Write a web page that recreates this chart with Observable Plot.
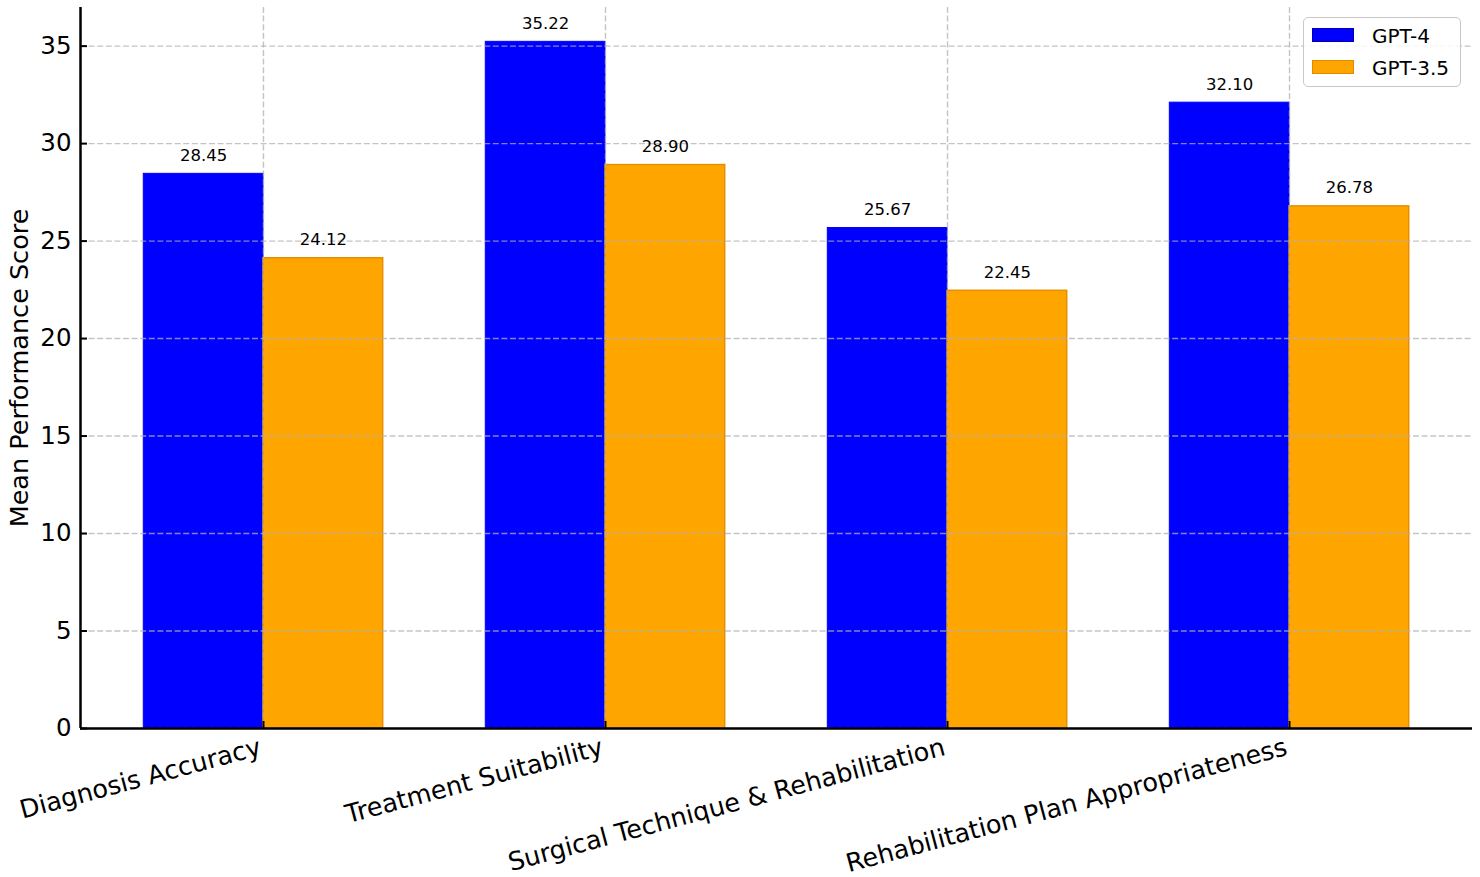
<!DOCTYPE html>
<html>
<head>
<meta charset="utf-8">
<script src="https://cdn.jsdelivr.net/npm/d3@7"></script>
<script src="https://cdn.jsdelivr.net/npm/@observablehq/plot@0.6"></script>
<style>
  html, body { margin: 0; padding: 0; background: #fff; overflow: hidden; }
  #wrap { position: relative; width: 1480px; height: 877px; font-family: "DejaVu Sans", sans-serif; }
  #chart svg { display: block; }
  .legend { position: absolute; left: 1303px; top: 17px; width: 158px; height: 70px; border: 1.5px solid #c8c8c8; border-radius: 5px; background: rgba(255,255,255,0.85); box-sizing: border-box; }
  .patch { position: absolute; width: 42px; height: 14px; box-sizing: border-box; }
  .ltext { position: absolute; font-size: 20px; line-height: 20px; color: #000; white-space: nowrap; }
</style>
</head>
<body>
<div id="wrap">
  <div id="chart"></div>
  <div class="legend" id="legend"></div>
</div>
<script>
// ---- data ----
const categories = ["Diagnosis Accuracy", "Treatment Suitability", "Surgical Technique & Rehabilitation", "Rehabilitation Plan Appropriateness"];
const seriesNames = ["GPT-4", "GPT-3.5"];
const gpt4 = [28.45, 35.22, 25.67, 32.10];
const gpt35 = [24.12, 28.90, 22.45, 26.78];
const yTicks = [0, 5, 10, 15, 20, 25, 30, 35];
const seriesColors = ["#0000ff", "#ffa500"];
const seriesEdges = ["#0000ff", "#e58f00"];

// ---- build table ----
const w = 0.35;
const rows = categories.flatMap((c, i) => [
  {cat: c, i, series: seriesNames[0], value: gpt4[i], x1: i - w, x2: i},
  {cat: c, i, series: seriesNames[1], value: gpt35[i], x1: i, x2: i + w}
]);
const lo = -w, hi = categories.length - 1 + w;
const pad = 0.05 * (hi - lo);
const xDomain = [lo - pad, hi + pad];
const yMax = d3.max(rows, d => d.value) * 1.05;
const idx = categories.map((d, i) => i);

const gridStyle = {stroke: "#b0b0b0", strokeOpacity: 0.75, strokeDasharray: "6,2.6", strokeWidth: 1.4};

const chart = Plot.plot({
  width: 1480,
  height: 877,
  marginLeft: 80,
  marginRight: 8,
  marginTop: 7,
  marginBottom: 149,
  style: {fontFamily: "DejaVu Sans", fontSize: "24px", color: "#000", background: "#fff"},
  x: {domain: xDomain},
  y: {domain: [0, yMax]},
  marks: [
    Plot.rectY(rows.filter(d => d.series === seriesNames[0]), {x1: "x1", x2: "x2", y: "value", fill: seriesColors[0], stroke: seriesEdges[0], strokeWidth: 1}),
    Plot.rectY(rows.filter(d => d.series === seriesNames[1]), {x1: "x1", x2: "x2", y: "value", fill: seriesColors[1], stroke: seriesEdges[1], strokeWidth: 1.5}),
    Plot.gridY(yTicks, gridStyle),
    Plot.gridX(idx, gridStyle),
    Plot.text(rows, {x: d => (d.x1 + d.x2) / 2, y: "value", text: d => d.value.toFixed(2), dy: -13, lineAnchor: "bottom", fontSize: 16.5, fill: "#000"}),
    Plot.axisY(yTicks, {tickSize: 7, dx: 7, tickPadding: 9, fontSize: 24.5, strokeWidth: 2, label: null, tickFormat: d => String(d)}),
    Plot.axisX(idx, {tickSize: 7, dy: -7, strokeWidth: 2, label: null, tickFormat: () => ""}),
    Plot.text(categories, {x: (d, i) => i, frameAnchor: "bottom", dy: 26, dx: -1, rotate: -15, textAnchor: "end", lineAnchor: "bottom", fontSize: 25.5, fill: "#000"}),
    Plot.text(["Mean Performance Score"], {frameAnchor: "left", dx: -53, rotate: -90, textAnchor: "middle", lineAnchor: "bottom", fontSize: 25.5, fill: "#000"}),
    Plot.ruleX([xDomain[0]], {stroke: "#000", strokeWidth: 2.5}),
    Plot.ruleY([0], {stroke: "#000", strokeWidth: 2.5})
  ]
});
document.getElementById("chart").appendChild(chart);

// ---- legend ----
const legend = document.getElementById("legend");
seriesNames.forEach((name, k) => {
  const p = document.createElement("div");
  p.className = "patch";
  p.style.left = "8px";
  p.style.top = (10 + k * 32) + "px";
  p.style.background = seriesColors[k];
  p.style.border = "1px solid " + (k === 0 ? "#0000b0" : "#e08a00");
  legend.appendChild(p);
  const t = document.createElement("div");
  t.className = "ltext";
  t.style.left = "68px";
  t.style.top = (8 + k * 32) + "px";
  t.textContent = name;
  legend.appendChild(t);
});
</script>
</body>
</html>
